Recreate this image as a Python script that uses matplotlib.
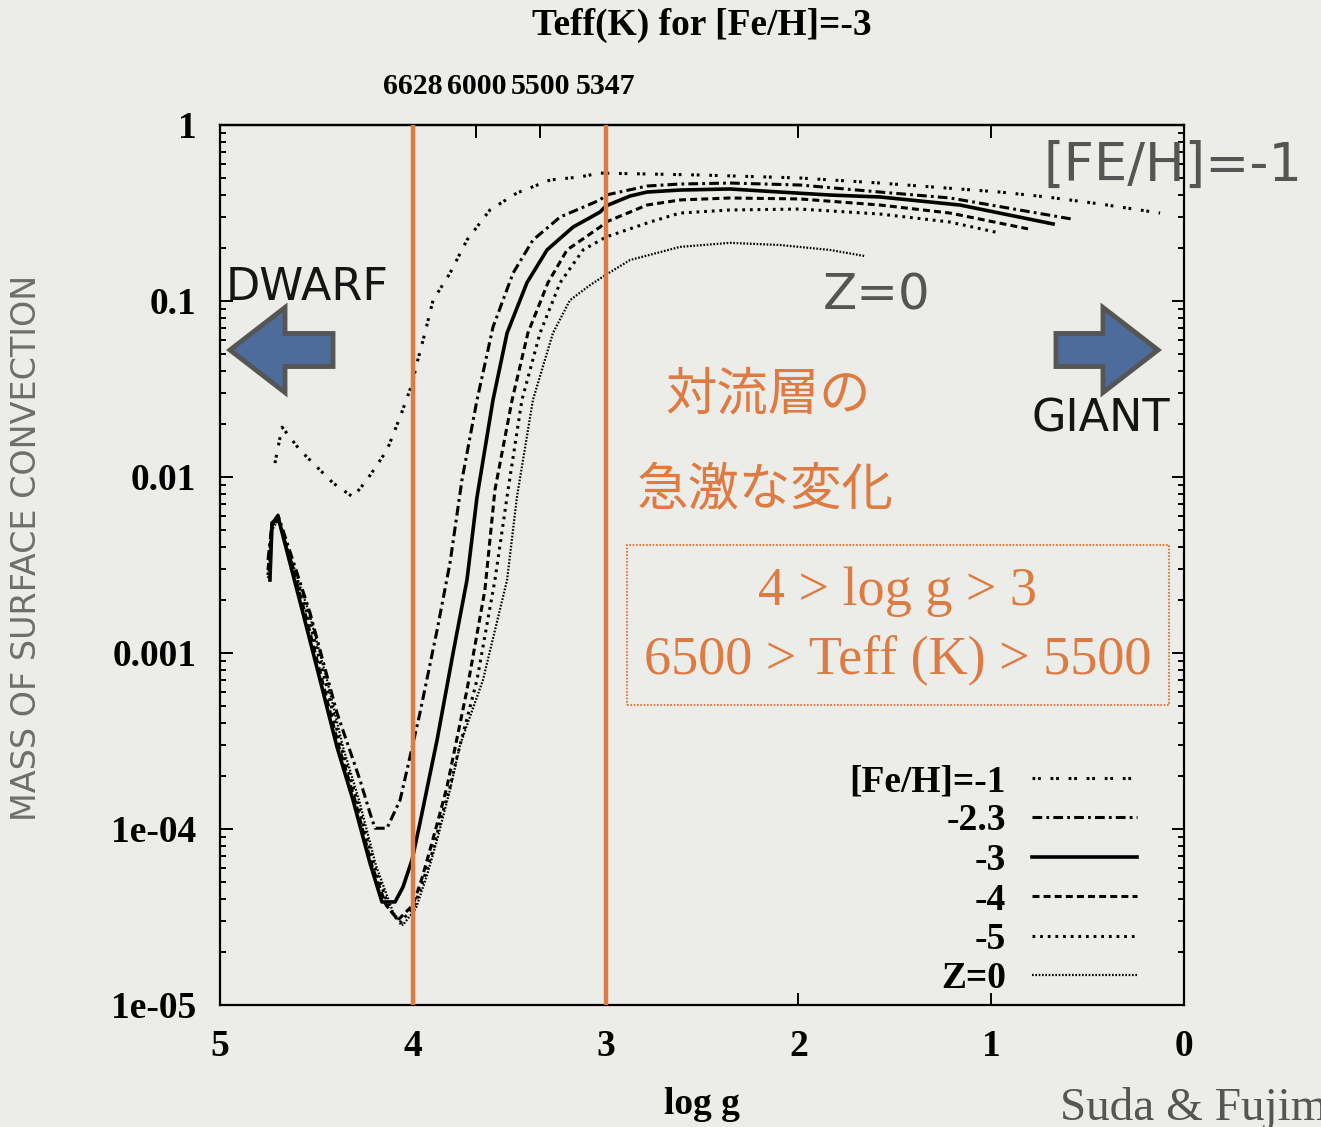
import matplotlib
matplotlib.use('Agg')
import matplotlib.pyplot as plt
import matplotlib.patches as mpatches
from matplotlib.ticker import FixedLocator, FixedFormatter, LogLocator, NullFormatter

# ---------------- data ----------------
series_labels = ['[Fe/H]=-1', '-2.3', '-3', '-4', '-5', 'Z=0']

logg_feh_m1 = [4.715, 4.678, 4.585, 4.497, 4.414, 4.310, 4.238, 4.134, 4.066, 4.015, 3.999, 3.978,
               3.937, 3.895, 3.807, 3.719, 3.600, 3.460, 3.288, 3.133, 3.029, 2.510, 1.992, 1.577,
               0.954, 0.711, 0.436, 0.124]
mass_feh_m1 = [0.0120, 0.0192, 0.0142, 0.0114, 0.00925, 0.00769, 0.00962, 0.0142, 0.0219, 0.0312,
               0.0356, 0.0445, 0.0658, 0.101, 0.144, 0.222, 0.329, 0.411, 0.487, 0.507, 0.533,
               0.520, 0.500, 0.468, 0.416, 0.390, 0.356, 0.316]

logg_feh_m23 = [4.751, 4.730, 4.699, 4.533, 4.393, 4.274, 4.222, 4.196, 4.134, 4.066, 4.015, 3.963,
                3.874, 3.807, 3.745, 3.667, 3.584, 3.480, 3.377, 3.236, 3.029, 2.998, 2.785, 2.614,
                2.355, 1.992, 1.577, 1.214, 0.581]
mass_feh_m23 = [0.00338, 0.00548, 0.00608, 0.00169, 4.56e-4, 1.90e-4, 1.23e-4, 1.01e-4, 1.01e-4,
                1.46e-4, 2.56e-4, 4.56e-4, 1.35e-3, 3.25e-3, 9.62e-3, 0.0274, 0.0711, 0.144, 0.222,
                0.300, 0.375, 0.400, 0.450, 0.462, 0.468, 0.456, 0.416, 0.385, 0.292]

logg_feh_m3 = [4.741, 4.730, 4.699, 4.570, 4.481, 4.393, 4.310, 4.222, 4.160, 4.092, 4.051, 4.004,
               3.963, 3.874, 3.791, 3.719, 3.667, 3.584, 3.511, 3.408, 3.304, 3.169, 3.029, 2.998,
               2.873, 2.785, 2.614, 2.355, 2.095, 1.836, 1.577, 1.162, 0.679]
mass_feh_m3 = [0.00260, 0.00548, 0.00593, 0.00169, 7.03e-4, 2.92e-4, 1.46e-4, 6.4e-5, 3.85e-5,
               3.85e-5, 4.68e-5, 6.67e-5, 1.08e-4, 3.21e-4, 1.00e-3, 2.60e-3, 7.69e-3, 0.0274,
               0.0658, 0.127, 0.195, 0.263, 0.320, 0.347, 0.395, 0.416, 0.427, 0.433, 0.416,
               0.400, 0.390, 0.351, 0.274]

logg_feh_m4 = [4.751, 4.730, 4.699, 4.559, 4.471, 4.383, 4.300, 4.212, 4.139, 4.077, 3.999, 3.952,
               3.911, 3.869, 3.823, 3.791, 3.719, 3.626, 3.574, 3.485, 3.403, 3.299, 3.200, 3.029,
               2.998, 2.785, 2.614, 2.355, 1.992, 1.577, 1.214, 0.809]
mass_feh_m4 = [0.00296, 0.00534, 0.00593, 0.00169, 7.03e-4, 2.92e-4, 1.46e-4, 6.2e-5, 3.70e-5,
               3.04e-5, 3.70e-5, 5.27e-5, 7.60e-5, 1.12e-4, 1.73e-4, 2.56e-4, 6.17e-4, 2.28e-3,
               8.44e-3, 0.0274, 0.0658, 0.127, 0.195, 0.263, 0.281, 0.351, 0.375, 0.385, 0.380,
               0.351, 0.316, 0.257]

logg_feh_m5 = [4.751, 4.730, 4.699, 4.549, 4.455, 4.372, 4.290, 4.201, 4.118, 4.066, 3.989, 3.937,
               3.895, 3.854, 3.807, 3.771, 3.667, 3.574, 3.506, 3.434, 3.340, 3.236, 3.117, 2.998,
               2.770, 2.614, 2.355, 1.992, 1.577, 1.214, 0.954]
mass_feh_m5 = [0.00277, 0.00513, 0.00577, 0.00169, 7.03e-4, 2.92e-4, 1.46e-4, 6.2e-5, 3.47e-5,
               2.92e-5, 3.70e-5, 5.48e-5, 7.60e-5, 1.15e-4, 1.73e-4, 2.56e-4, 7.03e-4, 2.60e-3,
               8.44e-3, 0.0274, 0.0658, 0.127, 0.195, 0.231, 0.281, 0.316, 0.329, 0.333, 0.312,
               0.281, 0.243]

logg_z0 = [4.751, 4.730, 4.699, 4.538, 4.445, 4.362, 4.279, 4.191, 4.103, 4.051, 3.983, 3.926,
           3.874, 3.807, 3.755, 3.636, 3.511, 3.460, 3.377, 3.273, 3.185, 3.081, 2.998, 2.873,
           2.614, 2.355, 2.095, 1.836, 1.655]
mass_z0 = [0.00267, 0.00500, 0.00570, 0.00169, 7.03e-4, 2.92e-4, 1.46e-4, 6.2e-5, 3.38e-5,
           2.85e-5, 3.56e-5, 5.48e-5, 8.66e-5, 1.67e-4, 3.00e-4, 7.03e-4, 2.60e-3, 7.69e-3,
           0.0274, 0.0658, 0.101, 0.123, 0.141, 0.171, 0.203, 0.214, 0.208, 0.195, 0.180]

x_ticks = [5, 4, 3, 2, 1, 0]
x_ticklabels = ['5', '4', '3', '2', '1', '0']
y_ticks = [1e-5, 1e-4, 1e-3, 1e-2, 1e-1, 1]
y_ticklabels = ['1e-05', '1e-04', '0.001', '0.01', '0.1', '1']
teff_tick_logg = [4.0, 3.67, 3.34, 3.0, 2.0, 1.0]
teff_ticklabels = ['6628', '6000', '5500', '5347', '', '']
boundary_logg = [4, 3]

# ---------------- styling ----------------
W, H = 1321, 1127
BG = '#ECECE8'
ORANGE = '#DE7B43'
SERIF = 'Liberation Serif'
plt.rcParams['lines.scale_dashes'] = False


def fx(px):
    return px / W


def fy(py):
    return 1 - py / H


fig = plt.figure(figsize=(W / 100, H / 100), dpi=100, facecolor=BG)
ax = fig.add_axes([fx(220), fy(1005), fx(1184) - fx(220), fy(125) - fy(1005)])
ax.set_facecolor(BG)

styles = [
    dict(lw=2.2, ls=(0, (2.0, 2.0, 2.0, 7.0))),
    dict(lw=2.2, ls=(0, (7.0, 3.0, 2.0, 3.0))),
    dict(lw=2.6, ls='-'),
    dict(lw=2.2, ls=(0, (5.0, 3.0))),
    dict(lw=2.2, ls=(0, (2.0, 3.5))),
    dict(lw=1.6, ls=(0, (1.2, 1.2))),
]
xs = [logg_feh_m1, logg_feh_m23, logg_feh_m3, logg_feh_m4, logg_feh_m5, logg_z0]
ys = [mass_feh_m1, mass_feh_m23, mass_feh_m3, mass_feh_m4, mass_feh_m5, mass_z0]

handles = []
for xv, yv, st, lab in zip(xs, ys, styles, series_labels):
    ln, = ax.plot(xv, yv, color='black', label=lab, zorder=3, solid_joinstyle='round', **st)
    handles.append(ln)

for b in boundary_logg:
    ax.axvline(b, color=ORANGE, lw=3.2, zorder=5)

ax.set_yscale('log')
ax.set_xlim(5, 0)
ax.set_ylim(1e-5, 1)

ax.xaxis.set_major_locator(FixedLocator(x_ticks))
ax.xaxis.set_major_formatter(FixedFormatter(x_ticklabels))
ax.yaxis.set_major_locator(FixedLocator(y_ticks))
ax.yaxis.set_major_formatter(FixedFormatter(y_ticklabels))
ax.yaxis.set_minor_locator(LogLocator(base=10, subs=range(2, 10), numticks=20))
ax.yaxis.set_minor_formatter(NullFormatter())

ax.tick_params(which='both', direction='in', right=True, top=False, width=1.4)
ax.tick_params(which='major', length=9)
ax.tick_params(which='minor', length=4.5)
ax.tick_params(axis='x', pad=17)
ax.tick_params(axis='y', pad=17)
for lab in ax.get_xticklabels() + ax.get_yticklabels():
    lab.set_fontfamily(SERIF)
    lab.set_fontweight('bold')
    lab.set_fontsize(27)
for sp in ax.spines.values():
    sp.set_linewidth(1.6)

sec = ax.secondary_xaxis('top')
sec.set_xticks(teff_tick_logg)
sec.set_xticklabels(teff_ticklabels)
sec.tick_params(direction='in', length=9, width=1.4, pad=18)
for lab in sec.get_xticklabels():
    lab.set_fontfamily(SERIF)
    lab.set_fontweight('bold')
    lab.set_fontsize(21.5)
sec.spines['top'].set_linewidth(1.6)

leg = ax.legend(handles=handles, loc='upper right', bbox_to_anchor=(fx(1137), fy(764)),
                bbox_transform=fig.transFigure, markerfirst=False, frameon=False,
                prop={'family': SERIF, 'weight': 'bold', 'size': 27},
                handlelength=2.8, handletextpad=0.7, labelspacing=0.12,
                borderpad=0, borderaxespad=0)
leg.set_zorder(6)

# titles / axis labels
fig.text(fx(702), fy(25), 'Teff(K) for [Fe/H]=-3', ha='center', va='center',
         fontsize=27, fontweight='bold', family=SERIF)
fig.text(fx(702), fy(1105), 'log g', ha='center', va='center',
         fontsize=27, fontweight='bold', family=SERIF)
fig.text(fx(27), fy(548), 'MASS OF SURFACE CONVECTION', rotation=90, ha='center', va='center',
         fontsize=24, color='#6E6E6E', family='DejaVu Sans')

# annotations
fig.text(fx(226), fy(300), 'DWARF', ha='left', va='baseline', fontsize=32,
         color='#151515', family='DejaVu Sans')
fig.text(fx(1101), fy(432), 'GIANT', ha='center', va='baseline', fontsize=32,
         color='#151515', family='DejaVu Sans')
fig.text(fx(877), fy(310), 'Z=0', ha='center', va='baseline', fontsize=36,
         color='#555555', family='DejaVu Sans')
fig.text(fx(1043), fy(181), '[FE/H]=-1', ha='left', va='baseline', fontsize=38,
         color='#555555', family='DejaVu Sans')

fig.text(fx(665), fy(395), '対流層の', ha='left', va='center', fontsize=37,
         color=ORANGE, family=['Noto Sans CJK JP', 'DejaVu Sans'])
fig.text(fx(637), fy(490), '急激な変化', ha='left', va='center', fontsize=37,
         color=ORANGE, family=['Noto Sans CJK JP', 'DejaVu Sans'])

fig.add_artist(mpatches.Rectangle((fx(627), fy(705)), fx(1169) - fx(627), fy(545) - fy(705),
                                  transform=fig.transFigure, fill=False, ec=ORANGE, lw=1.5,
                                  ls=(0, (1.2, 1.2)), zorder=7))
fig.text(fx(898), fy(592), '4 > log g > 3', ha='center', va='center', fontsize=39,
         color=ORANGE, family=SERIF, zorder=8)
fig.text(fx(898), fy(660), '6500 > Teff (K) > 5500', ha='center', va='center', fontsize=39,
         color=ORANGE, family=SERIF, zorder=8)

fig.text(fx(1060), fy(1120), 'Suda & Fujimoto', ha='left', va='baseline', fontsize=34,
         color='#555555', family=SERIF)

# block arrows
for x0, x1 in [(333, 230), (1056, 1158)]:
    arr = mpatches.FancyArrow(fx(x0), fy(350), fx(x1) - fx(x0), 0, width=33 / H,
                              head_width=85 / H, head_length=55 / W, length_includes_head=True,
                              transform=fig.transFigure, fc='#4D6C9C', ec='#555555', lw=3.5,
                              zorder=7)
    fig.add_artist(arr)

fig.savefig('out.png', dpi=100, facecolor=BG)
